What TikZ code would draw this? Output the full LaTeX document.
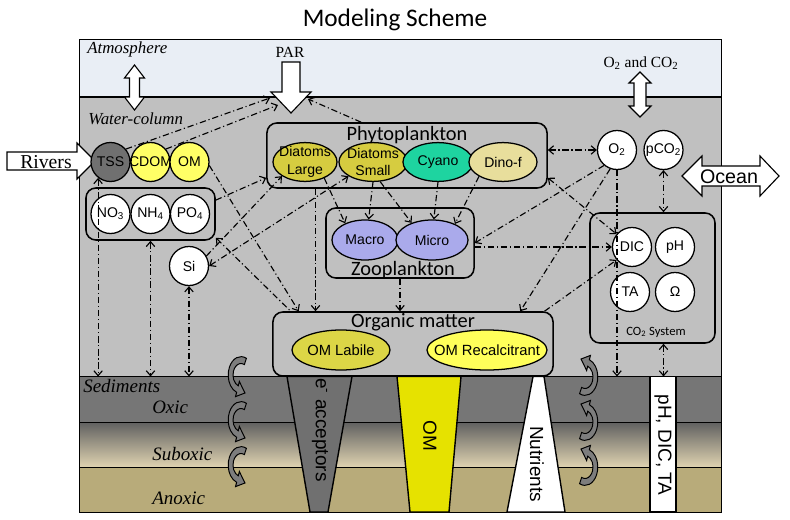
\documentclass[tikz,border=0pt]{standalone}
\usepackage{fontspec}
\setmainfont{Liberation Serif}
\setsansfont{Liberation Sans}
\newfontfamily\calib{Carlito}
\usetikzlibrary{arrows.meta,shapes.geometric,positioning}

\definecolor{atmo}{RGB}{233,238,245}
\definecolor{water}{RGB}{192,192,192}
\definecolor{oxic}{RGB}{118,118,118}
\definecolor{suboxtop}{RGB}{96,96,96}
\definecolor{suboxbot}{RGB}{222,210,176}
\definecolor{anoxic}{RGB}{184,171,122}
\definecolor{tssgray}{RGB}{112,112,112}
\definecolor{cdomyellow}{RGB}{255,255,102}
\definecolor{diatom}{RGB}{214,204,64}
\definecolor{cyanogreen}{RGB}{30,212,160}
\definecolor{dinokhaki}{RGB}{232,222,156}
\definecolor{zoolilac}{RGB}{170,170,235}
\definecolor{labileolive}{RGB}{220,214,70}
\definecolor{recalyellow}{RGB}{255,255,90}
\definecolor{omyellow}{RGB}{230,226,0}
\definecolor{curlgray}{RGB}{125,125,125}

\tikzset{
  pool/.style={circle, draw, line width=0.9pt, fill=white, minimum size=0.975cm, inner sep=-4pt, font=\sffamily\fontsize{10}{12}\selectfont},
  blob/.style={ellipse, draw, line width=0.9pt, inner xsep=-12pt, inner ysep=-3pt, align=center, font=\sffamily\fontsize{10}{12.5}\selectfont},
  group/.style={draw, line width=1.1pt, rounded corners=7pt, fill=water},
  grpname/.style={anchor=base, inner sep=0pt, font=\calib\fontsize{14.5}{16}\selectfont},
  layername/.style={anchor=base west, inner sep=0pt, font=\itshape\fontsize{13.5}{15}\selectfont},
  flux/.style={line width=0.8pt, dash pattern=on 4.5pt off 2pt on 0.8pt off 2pt, ->},
  wedge/.style={draw, line width=1pt},
  wedgename/.style={rotate=-90, inner sep=0pt, font=\sffamily\fontsize{13.5}{15}\selectfont},
  bigarrow/.style={draw, line width=0.8pt, fill=white},
  curl/.style={draw, line width=0.7pt, fill=curlgray}
}

\begin{document}
\begin{tikzpicture}[x=0.025cm, y=-0.025cm, >={Straight Barb[length=3.5pt,width=6pt]}]
  \useasboundingbox (0,0) rectangle (790,520);

  \node[font=\calib\fontsize{18}{20}\selectfont, anchor=base] (title) at (395,26) {Modeling Scheme};

  % layers
  \fill[atmo] (79,39) rectangle (721,97);
  \fill[water] (79,97) rectangle (721,376.5);
  \fill[oxic] (79,376.5) rectangle (721,422);
  \shade[top color=suboxtop, bottom color=suboxbot] (79,422) rectangle (721,467);
  \fill[anoxic] (79,467) rectangle (721,512);
  \draw[line width=0.6pt] (79,422) -- (721,422) (79,467) -- (721,467);
  \draw[line width=0.7pt] (79,376.5) -- (721,376.5);
  \draw[line width=1.3pt] (79,97) -- (721,97);
  \draw[line width=0.7pt] (79,39) rectangle (721,512);
  \coordinate (sedline) at (400,376.5);

  \node[layername, font=\itshape\fontsize{12}{14}\selectfont] (atm) at (87,53) {Atmosphere};
  \node[layername, font=\itshape\fontsize{12}{14}\selectfont] (wcol) at (88,124) {Water-column};
  \node[layername] (sed) at (83,392) {Sediments};
  \node[layername] (oxl) at (152,413) {Oxic};
  \node[layername] (subl) at (152,460) {Suboxic};
  \node[layername] (anl) at (152,504) {Anoxic};

  % exchange with the sediment
  \foreach \yy in {375,420,465} {
    \begin{scope}[shift={(241,\yy)}, y=0.025cm, xscale=0.8, yscale=-1.15]
      \filldraw[curl] (-65:16) arc[start angle=-65, end angle=-250, radius=16] -- (-6.84,18.8) -- (4.95,15.64) -- (-2.06,5.64) -- (-250:10) arc[start angle=-250, end angle=-65, radius=10] -- cycle;
    \end{scope}
    \begin{scope}[shift={(585,\yy+2)}, y=0.025cm, xscale=0.8, yscale=-1.15, rotate=180]
      \filldraw[curl] (-65:16) arc[start angle=-65, end angle=-250, radius=16] -- (-6.84,18.8) -- (4.95,15.64) -- (-2.06,5.64) -- (-250:10) arc[start angle=-250, end angle=-65, radius=10] -- cycle;
    \end{scope}
  }

  \filldraw[wedge, fill=tssgray] (287,376.5) -- (352,376.5) -- (328,512) -- (310,512) -- cycle;
  \filldraw[wedge, fill=omyellow] (397,376.5) -- (461,376.5) -- (449,512) -- (410,512) -- cycle;
  \filldraw[wedge, fill=white] (533,376.5) -- (544,376.5) -- (565,512) -- (507,512) -- cycle;
  \filldraw[wedge, fill=white] (650,376.5) rectangle (676,512);
  \node[wedgename] (eacc) at (320,430) {e\textsuperscript{-} acceptors};
  \node[wedgename] (omw) at (430,436) {OM};
  \node[wedgename] (nutw) at (537,464) {Nutrients};
  \node[wedgename] (carbw) at (663,445) {pH, DIC, TA};

  % big arrows
  \draw[bigarrow] (134.5,65) -- (144.5,78) -- (139.5,78) -- (139.5,97) -- (144.5,97) -- (134.5,110) -- (124.5,97) -- (129.5,97) -- (129.5,78) -- (124.5,78) -- cycle;
  \draw[bigarrow] (640,72) -- (651,83) -- (646,83) -- (646,106) -- (651,106) -- (640,117) -- (629,106) -- (634,106) -- (634,83) -- (629,83) -- cycle;
  \draw[bigarrow] (282,62) -- (300,62) -- (300,92) -- (311,92) -- (291,113) -- (271,92) -- (282,92) -- cycle;
  \draw[bigarrow] (7,152) -- (77,152) -- (77,143) -- (95,161) -- (77,179) -- (77,170) -- (7,170) -- cycle;
  \draw[bigarrow] (682,176) -- (702,156) -- (702,166) -- (760,166) -- (760,156) -- (779,176) -- (760,196) -- (760,186) -- (702,186) -- (702,196) -- cycle;
  \node[font=\fontsize{11}{13}\selectfont, anchor=base] (par) at (290,57) {PAR};
  \node[font=\fontsize{11}{13}\selectfont, anchor=base] (gas) at (641,67) {O\textsubscript{2} and CO\textsubscript{2}};
  \node[font=\fontsize{14}{16}\selectfont, anchor=base] (rivers) at (46,168) {Rivers};
  \node[font=\sffamily\fontsize{14}{16}\selectfont, anchor=base] (ocean) at (729,183) {Ocean};

  % boxes
  \node[group, minimum width=7cm, minimum height=1.625cm] (phyto) at (407,155.5) {};
  \node[group, minimum width=3.7cm, minimum height=1.75cm] (zoo) at (400,243) {};
  \node[group, minimum width=7cm, minimum height=1.6cm] (orgm) at (413,344) {};
  \node[group, minimum width=3.225cm, minimum height=1.3cm] (nutbox) at (150.5,214) {};
  \node[group, minimum width=3.125cm, minimum height=3.25cm] (co2box) at (652.5,278) {};
  \node[grpname] (phytoname) at (407,140) {Phytoplankton};
  \node[grpname] (zooname) at (403,275) {Zooplankton};
  \node[grpname] (orgmname) at (413,327) {Organic matter};
  \node[anchor=base, inner sep=0pt, font=\calib\fontsize{9}{11}\selectfont] (co2name) at (656,335) {CO\textsubscript{2} System};

  % pools
  \node[pool, fill=tssgray] (tss) at (110.5,162) {TSS};
  \node[pool, fill=cdomyellow] (cdom) at (150.5,162) {CDOM};
  \node[pool, fill=cdomyellow] (omc) at (189.5,162) {OM};
  \node[pool] (no3) at (110.5,214) {NO\textsubscript{3}};
  \node[pool] (nh4) at (150.5,214) {NH\textsubscript{4}};
  \node[pool] (po4) at (190,214) {PO\textsubscript{4}};
  \node[pool] (si) at (189,266) {Si};
  \node[pool] (o2) at (617,150) {O\textsubscript{2}};
  \node[pool] (pco2) at (663.5,150) {pCO\textsubscript{2}};
  \node[pool] (dic) at (632,247) {DIC};
  \node[pool] (ph) at (675,247) {pH};
  \node[pool] (ta) at (630,292) {TA};
  \node[pool] (omega) at (675,292) {Ω};

  \node[blob, fill=diatom, minimum width=1.6cm, minimum height=0.97cm] (dl) at (305,162) {Diatoms\\Large};
  \node[blob, fill=diatom, minimum width=1.7cm, minimum height=0.97cm] (ds) at (373,162) {Diatoms\\Small};
  \node[blob, fill=cyanogreen, minimum width=1.75cm, minimum height=0.97cm] (cyano) at (438,162) {Cyano};
  \node[blob, fill=dinokhaki, minimum width=1.7cm, minimum height=0.97cm] (dino) at (503,162) {Dino-f};
  \node[blob, fill=zoolilac, minimum width=1.65cm, minimum height=1cm] (macro) at (365,240) {Macro};
  \node[blob, fill=zoolilac, minimum width=1.8cm, minimum height=1cm] (micro) at (432,240) {Micro};
  \node[blob, fill=labileolive, minimum width=2.45cm, minimum height=1cm, font=\sffamily\fontsize{10.5}{12}\selectfont] (labile) at (341,350) {OM Labile};
  \node[blob, fill=recalyellow, minimum width=3cm, minimum height=1cm, font=\sffamily\fontsize{10.5}{12}\selectfont] (recal) at (487,350) {OM Recalcitrant};

  % fluxes
  \coordinate (parA) at (270,98);
  \coordinate (parB) at (278,105);
  \coordinate (parC) at (308,99);
  \draw[flux] (tss.40) -- (parA);
  \draw[flux] (cdom.40) -- (parB);
  \draw[flux] (phyto.144) -- (parC);
  \draw[flux] (nutbox.12) -- (phyto.189);
  \draw[flux] (si.30) -- (dl.south west);
  \draw[flux,<->] (si.0) -- (ds.south west);
  \draw[flux] (omc.-10) -- (orgm.164);
  \draw[flux,<-] (nutbox.-20) -- (orgm.165);
  \draw[flux] (phyto.200) -- (phyto.200 |- orgm.north);
  \draw[flux] (zoo.south) -- (zoo.south |- orgm.north);
  \draw[flux] (dl.-40) -- (macro.140);
  \draw[flux] (ds.south) -- (macro.80);
  \draw[flux] (ds.-70) -- (micro.140);
  \draw[flux] (cyano.south) -- (micro.85);
  \draw[flux] (dino.211) -- (micro.35);
  \draw[flux,<->] (phyto.east |- o2.west) -- (o2.west);
  \draw[flux] (o2.230) -- (zoo.east);
  \draw[flux] (o2.250) -- (orgm.17);
  \draw[flux] (dic.west -| zoo.east) -- (dic.west);
  \draw[flux] (orgm.14) -- (dic.220);
  \draw[flux,<->] (phyto.-9) -- (dic.140);
  \draw[flux,<->] (pco2.south) -- (pco2.south |- co2box.north);
  \draw[flux] (o2.south) -- (o2.south |- sedline);
  \draw[flux,<->] (pco2.south |- co2box.south) -- (pco2.south |- sedline);
  \draw[flux,<->] (tss.232) -- (tss.232 |- sedline);
  \draw[flux,<->] (nutbox.south) -- (nutbox.south |- sedline);
  \draw[flux,<->] (si.south) -- (si.south |- sedline);
\end{tikzpicture}
\end{document}
